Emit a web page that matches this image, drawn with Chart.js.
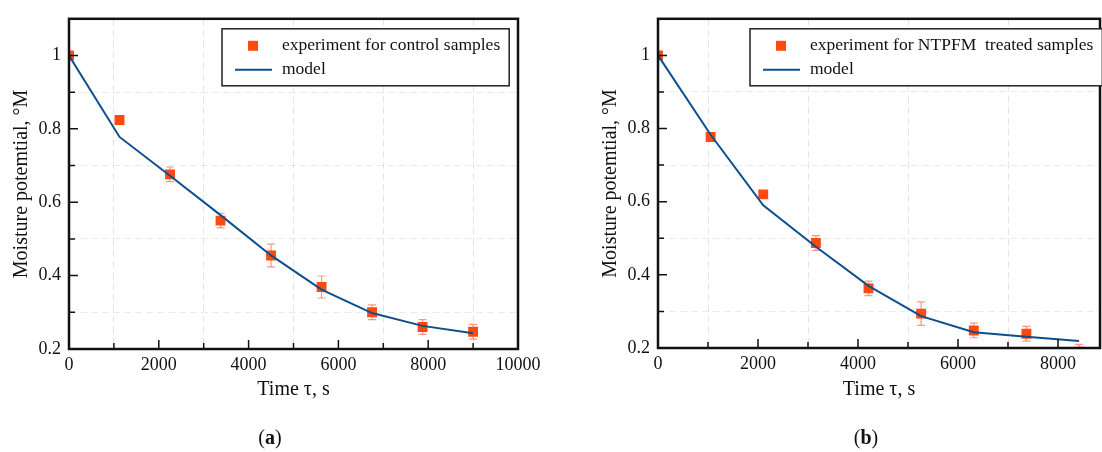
<!DOCTYPE html>
<html>
<head>
<meta charset="utf-8">
<script src="https://cdn.jsdelivr.net/npm/chart.js@4.4.1/dist/chart.umd.min.js"></script>
<style>
  html, body { margin: 0; padding: 0; background: #fff; }
  body { width: 1102px; height: 452px; overflow: hidden; position: relative;
         font-family: "Liberation Serif", "Times New Roman", serif; }
  .panel { position: absolute; top: 0; width: 560px; height: 452px; }
  #panelA { left: 0; }
  #panelB { left: 560px; }
  .caption { position: absolute; top: 425px; width: 100px; text-align: center;
             font-size: 20px; line-height: 24px; color: #111; }
</style>
</head>
<body>
<div class="panel" id="panelA"><canvas id="chartA"></canvas></div>
<div class="panel" id="panelB"><canvas id="chartB"></canvas></div>
<div class="caption" style="left:220px">(<b>a</b>)</div>
<div class="caption" style="left:816px">(<b>b</b>)</div>
<script>
// (a) control samples
const timeA = [0, 1125, 2250, 3375, 4500, 5625, 6750, 7875, 9000];
const expA = [1.0, 0.824, 0.676, 0.550, 0.455, 0.369, 0.300, 0.260, 0.247];
const errA = [0.005, 0, 0.02, 0.02, 0.031, 0.03, 0.02, 0.02, 0.02];
const modelA = [1.0, 0.778, 0.672, 0.565, 0.455, 0.362, 0.298, 0.263, 0.243];

// (b) NTPFM treated samples
const timeB = [0, 1053, 2105, 3158, 4210, 5263, 6316, 7368, 8421];
const expB = [1.0, 0.777, 0.620, 0.487, 0.363, 0.294, 0.248, 0.239, 0.19];
const errB = [0.005, 0, 0, 0.02, 0.02, 0.032, 0.02, 0.02, 0.02];
const modelB = [1.0, 0.783, 0.590, 0.477, 0.370, 0.287, 0.243, 0.231, 0.219];

// axis ticks (labels only on every second one)
const xTicksA = [0, 1000, 2000, 3000, 4000, 5000, 6000, 7000, 8000, 9000, 10000];
const xTicksB = [0, 1000, 2000, 3000, 4000, 5000, 6000, 7000, 8000];
const yTicks = [0.2, 0.3, 0.4, 0.5, 0.6, 0.7, 0.8, 0.9, 1.0, 1.1];

const yTitle = "Moisture potemtial, °M";
const xTitle = "Time τ, s";

const orange = "#ff4a0f";
const blue = "#0d4f8c";
const serif = '"Liberation Serif", "Times New Roman", serif';

Chart.defaults.font.family = serif;
Chart.defaults.color = "#111";

const majorX = v => Math.round(v / 1000) % 2 === 0;
const majorY = v => Math.round(v * 10) % 2 === 0;

// error bars, frame, inward ticks and boxed legend
const framePlugin = {
  id: "frame",
  beforeDatasetsDraw(chart) {
    const { ctx, chartArea: a, scales: { x, y } } = chart;
    ctx.save();
    ctx.beginPath();
    ctx.rect(a.left, a.top, a.width, a.height);
    ctx.clip();
    ctx.strokeStyle = "rgba(255, 105, 75, 0.7)";
    ctx.lineWidth = 1.2;
    chart.data.datasets.forEach(ds => {
      if (!ds.errorBars) return;
      ds.data.forEach((p, i) => {
        const e = ds.errorBars[i];
        if (!e) return;
        const px = x.getPixelForValue(p.x);
        const y1 = y.getPixelForValue(p.y - e);
        const y2 = y.getPixelForValue(p.y + e);
        ctx.beginPath();
        ctx.moveTo(px, y1); ctx.lineTo(px, y2);
        ctx.moveTo(px - 4, y1); ctx.lineTo(px + 4, y1);
        ctx.moveTo(px - 4, y2); ctx.lineTo(px + 4, y2);
        ctx.stroke();
      });
    });
    ctx.restore();
  },
  afterDraw(chart, args, opts) {
    const { ctx, chartArea: a, scales: { x, y } } = chart;
    ctx.save();
    // ticks pointing inwards
    ctx.strokeStyle = "#111";
    ctx.lineWidth = 1.5;
    ctx.beginPath();
    x.ticks.forEach(t => {
      const px = x.getPixelForValue(t.value);
      ctx.moveTo(px, a.bottom);
      ctx.lineTo(px, a.bottom - (majorX(t.value) ? 9 : 6));
    });
    y.ticks.forEach(t => {
      const py = y.getPixelForValue(t.value);
      ctx.moveTo(a.left, py);
      ctx.lineTo(a.left + (majorY(t.value) ? 9 : 6), py);
    });
    ctx.stroke();

    ctx.lineWidth = 2.5;
    ctx.strokeRect(a.left, a.top, a.width, a.height);

    // legend box
    const [exp, model] = chart.data.datasets;
    ctx.font = "17.5px " + serif;
    const tw = Math.max(ctx.measureText(exp.label).width, ctx.measureText(model.label).width);
    const bx = a.left + opts.left, by = a.top + 10;
    const bw = 60 + tw + 9, bh = 57;
    ctx.fillStyle = "#fff";
    ctx.fillRect(bx, by, bw, bh);
    ctx.lineWidth = 1.5;
    ctx.strokeStyle = "#222";
    ctx.strokeRect(bx, by, bw, bh);

    const r1 = by + 17, r2 = by + 41;
    ctx.fillStyle = orange;
    ctx.fillRect(bx + 31 - 5, r1 - 5, 10, 10);
    ctx.strokeStyle = blue;
    ctx.lineWidth = 2;
    ctx.beginPath();
    ctx.moveTo(bx + 13, r2);
    ctx.lineTo(bx + 50, r2);
    ctx.stroke();

    ctx.fillStyle = "#111";
    ctx.textBaseline = "middle";
    ctx.textAlign = "left";
    ctx.fillText(exp.label, bx + 60, r1);
    ctx.fillText(model.label, bx + 60, r2);
    ctx.restore();
  }
};

function makeChart(id, times, expVals, errVals, modelVals, expLabel, xTicks, xMax, pad, legendLeft) {
  const ctx = document.getElementById(id).getContext("2d");
  return new Chart(ctx, {
    type: "scatter",
    data: {
      datasets: [
        {
          label: expLabel,
          data: times.map((t, i) => ({ x: t, y: expVals[i] })),
          errorBars: errVals,
          showLine: false,
          pointStyle: "rect",
          pointRadius: 7,
          pointBackgroundColor: orange,
          pointBorderWidth: 0,
          clip: 0,
          order: 1
        },
        {
          label: "model",
          data: times.map((t, i) => ({ x: t, y: modelVals[i] })),
          showLine: true,
          borderColor: blue,
          borderWidth: 2,
          pointRadius: 0,
          tension: 0,
          order: 0
        }
      ]
    },
    options: {
      responsive: true,
      maintainAspectRatio: false,
      animation: false,
      layout: { padding: { left: pad.left, top: pad.top, right: pad.right, bottom: pad.bottom } },
      scales: {
        x: {
          type: "linear",
          min: 0,
          max: xMax,
          afterBuildTicks(s) { s.ticks = xTicks.map(v => ({ value: v })); },
          afterFit(s) { s.height = 452 - pad.bottom - pad.chartBottom; },
          ticks: {
            autoSkip: false,
            maxRotation: 0,
            padding: 5,
            font: { size: 18 },
            callback: v => majorX(v) ? String(Math.round(v)) : ""
          },
          grid: {
            drawTicks: false,
            lineWidth: 1,
            color: c => majorX(c.tick.value) ? "transparent" : "rgba(0,0,0,0.1)"
          },
          border: { display: false, dash: [7, 4] },
          title: { display: true, text: xTitle, font: { size: 20 }, padding: { top: 0, bottom: 10 } }
        },
        y: {
          min: 0.2,
          max: 1.1,
          afterBuildTicks(s) { s.ticks = yTicks.map(v => ({ value: v })); },
          afterFit(s) { s.width = 69; },
          ticks: {
            padding: 8,
            font: { size: 18 },
            callback: v => majorY(v) ? String(Math.round(v * 10) / 10) : ""
          },
          grid: {
            drawTicks: false,
            lineWidth: 1,
            color: c => majorY(c.tick.value) ? "transparent" : "rgba(0,0,0,0.08)"
          },
          border: { display: false, dash: [7, 4] },
          title: { display: true, text: yTitle, font: { size: 20 }, padding: { top: 10, bottom: 0 } }
        }
      },
      plugins: {
        legend: { display: false },
        tooltip: { enabled: false },
        frame: { left: legendLeft }
      }
    },
    plugins: [framePlugin]
  });
}

makeChart("chartA", timeA, expA, errA, modelA, "experiment for control samples",
  xTicksA, 10000, { left: 0, top: 11, right: 42, bottom: 40, chartBottom: 349 }, 153);
makeChart("chartB", timeB, expB, errB, modelB, "experiment for NTPFM  treated samples",
  xTicksB, 8840, { left: 29, top: 10, right: 20, bottom: 40, chartBottom: 348 }, 92);
</script>
</body>
</html>
